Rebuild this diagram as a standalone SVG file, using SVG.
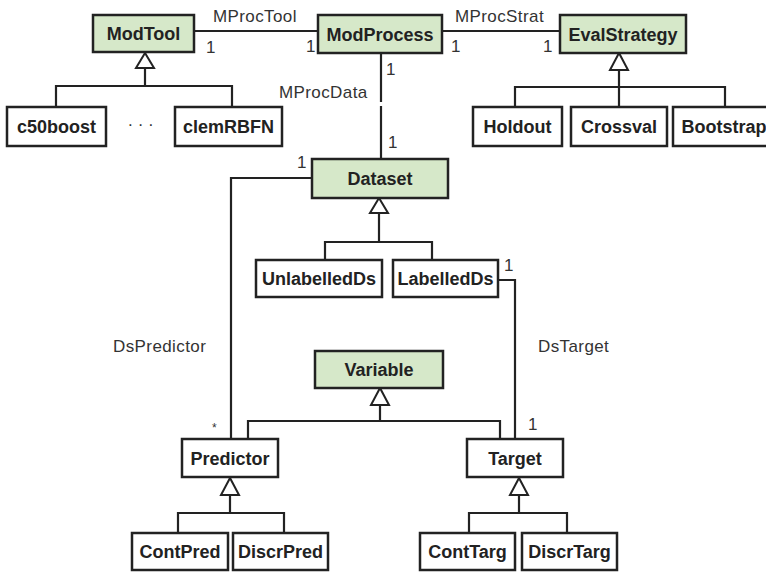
<svg xmlns="http://www.w3.org/2000/svg" width="766" height="572" viewBox="0 0 766 572">
<style>
.box{fill:#fff;stroke:#222;stroke-width:2.5}
.g{fill:#d6e8c9}
.t{font-family:"Liberation Sans",Arial,sans-serif;font-weight:bold;font-size:18px;fill:#222;text-anchor:middle}
.l{font-family:"Liberation Sans",Arial,sans-serif;font-size:17px;fill:#333;letter-spacing:0.4px}
.c{fill:none;stroke:#222;stroke-width:2.2}
.tri{fill:#fff;stroke:#222;stroke-width:2}
</style>
<rect width="766" height="572" fill="#fff"/>
<g id="connectors">
<path class="c" d="M194 31H318M442 31H560"/>
<path class="c" d="M381 53V102M381 106V159"/>
<path class="c" d="M312 178H231V439"/>
<path class="c" d="M498 280H515V439"/>
<path class="c" d="M145 68V86M56 107V86H232V107"/>
<path class="c" d="M619 70V87M515 107V87H725V107M619 87V107"/>
<path class="c" d="M379 213V242M325 260V242H432V260"/>
<path class="c" d="M380 405V421M248 439V421H500V439"/>
<path class="c" d="M230 495V513M178 533V513H284V533"/>
<path class="c" d="M519 495V513M469 533V513H567V533"/>
<polygon class="tri" points="145,53 136,68 154,68"/>
<polygon class="tri" points="619,53 610,70 628,70"/>
<polygon class="tri" points="379,198 370,213 388,213"/>
<polygon class="tri" points="380,388 371,405 389,405"/>
<polygon class="tri" points="230,478 221,495 239,495"/>
<polygon class="tri" points="519,478 510,495 528,495"/>
</g>
<g id="labels" class="l">
<text x="213" y="22">MProcTool</text>
<text x="455" y="22">MProcStrat</text>
<text x="279" y="98">MProcData</text>
<text x="113" y="352">DsPredictor</text>
<text x="538" y="352">DsTarget</text>
<text x="206" y="53">1</text>
<text x="306" y="52">1</text>
<text x="451" y="52">1</text>
<text x="543" y="52">1</text>
<text x="386" y="75">1</text>
<text x="388" y="148">1</text>
<text x="297" y="168">1</text>
<text x="504" y="271">1</text>
<text x="528" y="430">1</text>
<text x="212" y="432" font-size="12">*</text>
<text x="128" y="126">. . .</text>
</g>
<g id="ModTool"><rect class="box g" x="93" y="15" width="101" height="37"/><text class="t" x="143.5" y="40">ModTool</text></g>
<g id="ModProcess"><rect class="box g" x="318" y="15" width="124" height="38"/><text class="t" x="380" y="40.5">ModProcess</text></g>
<g id="EvalStrategy"><rect class="box g" x="560" y="15" width="126" height="38"/><text class="t" x="623" y="40.5">EvalStrategy</text></g>
<g id="c50boost"><rect class="box" x="7" y="107" width="99" height="39"/><text class="t" x="56.5" y="133">c50boost</text></g>
<g id="clemRBFN"><rect class="box" x="175" y="107" width="107" height="39"/><text class="t" x="228.5" y="133">clemRBFN</text></g>
<g id="Holdout"><rect class="box" x="473" y="107" width="89" height="39"/><text class="t" x="517.5" y="133">Holdout</text></g>
<g id="Crossval"><rect class="box" x="571" y="107" width="96" height="39"/><text class="t" x="619" y="133">Crossval</text></g>
<g id="Bootstrap"><rect class="box" x="673" y="107" width="100" height="39"/><text class="t" x="724" y="133">Bootstrap</text></g>
<g id="Dataset"><rect class="box g" x="312" y="159" width="136" height="39"/><text class="t" x="380" y="185">Dataset</text></g>
<g id="UnlabelledDs"><rect class="box" x="256" y="260" width="126" height="37"/><text class="t" x="319" y="285">UnlabelledDs</text></g>
<g id="LabelledDs"><rect class="box" x="393" y="260" width="105" height="37"/><text class="t" x="445.5" y="285">LabelledDs</text></g>
<g id="Variable"><rect class="box g" x="315" y="351" width="128" height="37"/><text class="t" x="379" y="376">Variable</text></g>
<g id="Predictor"><rect class="box" x="182" y="439" width="96" height="38"/><text class="t" x="230" y="464.5">Predictor</text></g>
<g id="Target"><rect class="box" x="467" y="439" width="96" height="38"/><text class="t" x="515" y="464.5">Target</text></g>
<g id="ContPred"><rect class="box" x="132" y="533" width="96" height="37"/><text class="t" x="180" y="558">ContPred</text></g>
<g id="DiscrPred"><rect class="box" x="233" y="533" width="95" height="37"/><text class="t" x="280.5" y="558">DiscrPred</text></g>
<g id="ContTarg"><rect class="box" x="420" y="533" width="95" height="37"/><text class="t" x="467.5" y="558">ContTarg</text></g>
<g id="DiscrTarg"><rect class="box" x="522" y="533" width="95" height="37"/><text class="t" x="569.5" y="558">DiscrTarg</text></g>
</svg>
